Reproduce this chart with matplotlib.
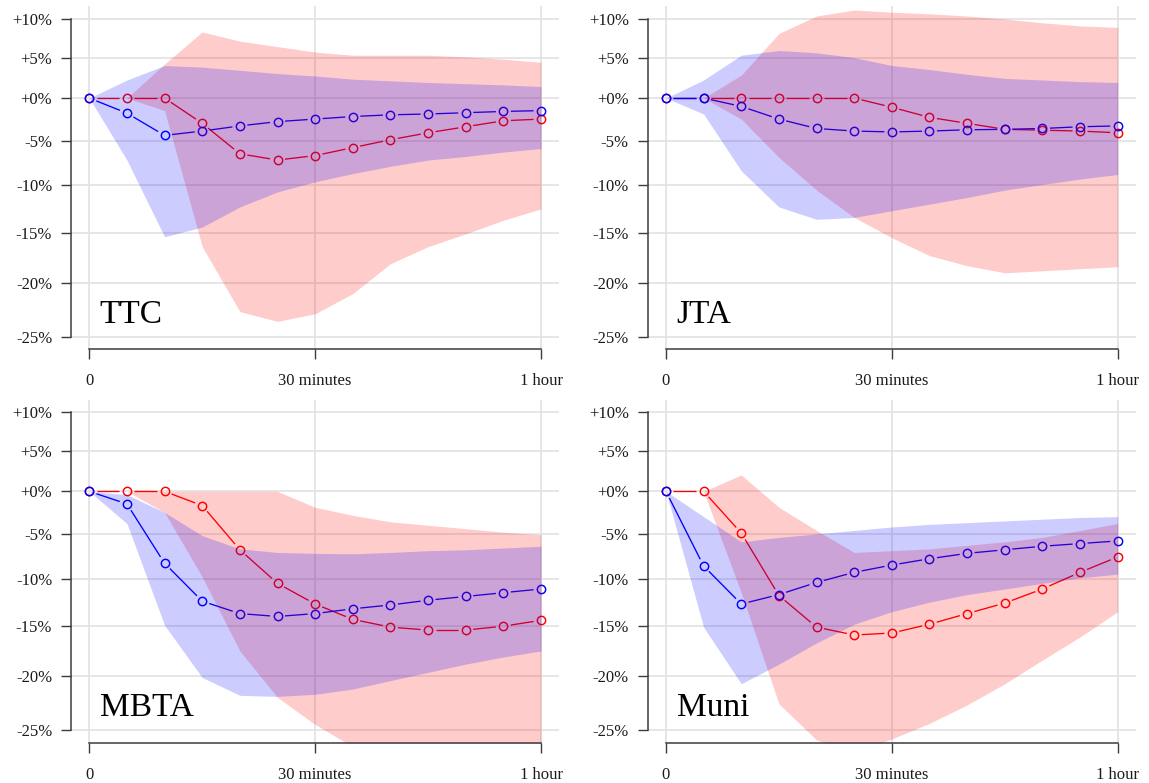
import numpy as np
import matplotlib
matplotlib.use("Agg")
import matplotlib.pyplot as plt
from matplotlib.ticker import FixedLocator, FixedFormatter, NullLocator

plt.rcParams['font.family'] = ['Liberation Serif', 'DejaVu Serif']

# ---------------- data (percent change) ----------------
minutes = [0, 5, 10, 15, 20, 25, 30, 35, 40, 45, 50, 55, 60]

ttc_blue_mean = [0, -1.8, -4.4, -3.9, -3.3, -2.8, -2.5, -2.2, -2.0, -1.9, -1.75, -1.6, -1.5]
ttc_blue_hi = [0, 2.2, 4.0, 3.8, 3.4, 3.0, 2.7, 2.3, 2.1, 1.9, 1.75, 1.6, 1.4]
ttc_blue_lo = [0, -7.2, -15.4, -14.4, -12.3, -10.7, -9.6, -8.7, -7.9, -7.2, -6.8, -6.3, -5.9]
ttc_red_mean = [0, 0, 0, -3.0, -6.5, -7.2, -6.7, -5.8, -4.9, -4.1, -3.4, -2.7, -2.5]
ttc_red_hi = [0, 0, 4.2, 8.3, 7.1, 6.4, 5.7, 5.3, 5.3, 5.3, 5.1, 4.8, 4.4]
ttc_red_lo = [0, 0, -1.5, -16.4, -22.7, -23.6, -22.9, -21.0, -18.1, -16.4, -15.1, -13.7, -12.5]

jta_blue_mean = [0, 0, -1.0, -2.5, -3.6, -3.9, -4.0, -3.9, -3.75, -3.7, -3.6, -3.4, -3.3]
jta_blue_hi = [0, 2.2, 5.3, 5.9, 5.6, 5.0, 4.0, 3.5, 2.9, 2.4, 2.2, 2.0, 1.9]
jta_blue_lo = [0, -1.9, -8.4, -12.3, -13.6, -13.4, -12.7, -12.0, -11.3, -10.5, -9.9, -9.3, -8.8]
jta_red_mean = [0, 0, 0, 0, 0, 0, -1.1, -2.3, -3.0, -3.7, -3.8, -3.9, -4.1]
jta_red_hi = [0, 0, 2.8, 8.1, 10.4, 11.2, 10.9, 10.7, 10.4, 10.0, 9.5, 9.1, 8.9]
jta_red_lo = [0, 0, -2.5, -6.9, -10.5, -13.4, -15.5, -17.3, -18.3, -19.0, -18.8, -18.6, -18.4]

mbta_blue_mean = [0, -1.5, -8.3, -12.4, -13.7, -14.0, -13.7, -13.2, -12.8, -12.3, -11.9, -11.5, -11.1]
mbta_blue_hi = [0, -0.4, -2.5, -5.2, -6.7, -7.1, -7.2, -7.25, -7.1, -6.9, -6.8, -6.6, -6.4]
mbta_blue_lo = [0, -3.8, -14.9, -20.1, -21.8, -21.9, -21.7, -21.2, -20.4, -19.6, -18.8, -18.1, -17.5]
mbta_red_mean = [0, 0, 0, -1.7, -6.8, -10.5, -12.7, -14.3, -15.1, -15.4, -15.4, -15.0, -14.4]
mbta_red_hi = [0, 0, 0, 0, 0, 0, -1.9, -2.85, -3.6, -4.0, -4.4, -4.8, -5.1]
mbta_red_lo = [0, 0, -2.5, -9.8, -17.5, -22.0, -24.5, -26.5, -28.0, -29.0, -29.5, -30.0, -30.0]

muni_blue_mean = [0, -8.6, -12.7, -11.7, -10.4, -9.3, -8.5, -7.8, -7.2, -6.8, -6.4, -6.1, -5.8]
muni_blue_hi = [0, -3.0, -5.9, -5.4, -5.0, -4.6, -4.2, -3.9, -3.7, -3.5, -3.3, -3.1, -3.0]
muni_blue_lo = [0, -15.1, -20.7, -18.8, -16.7, -14.8, -13.5, -12.5, -11.7, -11.1, -10.5, -9.9, -9.5]
muni_red_mean = [0, 0, -4.9, -11.8, -15.1, -15.9, -15.7, -14.8, -13.7, -12.6, -11.1, -9.3, -7.6]
muni_red_hi = [0, 0, 2.0, -1.9, -4.6, -7.1, -6.9, -6.7, -6.3, -5.9, -5.4, -4.6, -3.8]
muni_red_lo = [0, 0, -11.5, -22.6, -25.9, -27.0, -25.8, -24.4, -22.7, -20.7, -18.4, -16.1, -13.5]

agencies = ["TTC", "JTA", "MBTA", "Muni"]
y_ticks = [10, 5, 0, -5, -10, -15, -20, -25]
y_ticklabels = ["+10%", "+5%", "+0%", "-5%", "-10%", "-15%", "-20%", "-25%"]
x_ticks = [0, 30, 60]
x_ticklabels = ["0", "30 minutes", "1 hour"]

panels = {
    "TTC": (ttc_blue_mean, ttc_blue_hi, ttc_blue_lo, ttc_red_mean, ttc_red_hi, ttc_red_lo),
    "JTA": (jta_blue_mean, jta_blue_hi, jta_blue_lo, jta_red_mean, jta_red_hi, jta_red_lo),
    "MBTA": (mbta_blue_mean, mbta_blue_hi, mbta_blue_lo, mbta_red_mean, mbta_red_hi, mbta_red_lo),
    "Muni": (muni_blue_mean, muni_blue_hi, muni_blue_lo, muni_red_mean, muni_red_hi, muni_red_lo),
}

# ---------------- layout ----------------
W, H = 1149, 783
fig = plt.figure(figsize=(W / 100, H / 100), dpi=100)
fig.patch.set_facecolor("white")

boxes = {
    "TTC": (71.2, 6.3, 559.1, 349.4),
    "JTA": (647.9, 6.3, 1135.8, 349.4),
    "MBTA": (71.2, 399.6, 559.1, 742.7),
    "Muni": (647.9, 399.6, 1135.8, 742.7),
}


def ratio(v):
    return 1.0 + np.asarray(v, dtype=float) / 100.0


lo_t, hi_t = ratio(y_ticks[-1]), ratio(y_ticks[0])
span = np.log(hi_t) - np.log(lo_t)
ylim = (lo_t * np.exp(-0.04 * span), hi_t * np.exp(0.04 * span))
xlim = (-0.04 * 60, 60 * 1.04)

AX_COL = "#3c3c3c"
GAP = 7.5  # px gap around each point (type="b" look)


def gapped(ax, xs, ys, color):
    pts = ax.transData.transform(np.column_stack([xs, ys]))
    inv = ax.transData.inverted()
    for p, q in zip(pts[:-1], pts[1:]):
        d = q - p
        L = np.hypot(d[0], d[1])
        if L <= 2 * GAP:
            continue
        u = d / L
        a = inv.transform(p + u * GAP)
        b = inv.transform(q - u * GAP)
        ax.plot([a[0], b[0]], [a[1], b[1]], color=color, lw=0.95,
                solid_capstyle="butt", zorder=1)
    ax.plot(xs, ys, ls="none", marker="o", mfc="none", mec=color,
            ms=6.0, mew=1.05, zorder=1.1)


for name in agencies:
    x0, y0, x1, y1 = boxes[name]
    ax = fig.add_axes([x0 / W, 1 - y1 / H, (x1 - x0) / W, (y1 - y0) / H])
    ax.set_yscale("log")
    ax.set_xlim(*xlim)
    ax.set_ylim(*ylim)
    ax.set_facecolor("white")

    ax.yaxis.set_major_locator(FixedLocator(ratio(y_ticks)))
    ax.yaxis.set_major_formatter(FixedFormatter(y_ticklabels))
    ax.yaxis.set_minor_locator(NullLocator())
    ax.set_xticks(x_ticks)
    ax.set_xticklabels(x_ticklabels)

    ax.grid(True, which="major", color="#e2e2e2", lw=1.2, zorder=0)
    ax.set_axisbelow(True)

    bm, bh, bl, rm, rh, rl = panels[name]
    xs = np.asarray(minutes, dtype=float)

    gapped(ax, xs, ratio(rm), "#ff0000")
    gapped(ax, xs, ratio(bm), "#0000ff")

    ax.fill_between(xs, ratio(rl), ratio(rh), color="#ff0000", alpha=0.2,
                    lw=0, zorder=2)
    ax.fill_between(xs, ratio(bl), ratio(bh), color="#0000ff", alpha=0.2,
                    lw=0, zorder=3)

    for s in ("top", "right"):
        ax.spines[s].set_visible(False)
    ax.spines["left"].set_bounds(ratio(y_ticks[-1]), ratio(y_ticks[0]))
    ax.spines["bottom"].set_bounds(x_ticks[0], x_ticks[-1])
    for s in ("left", "bottom"):
        ax.spines[s].set_color(AX_COL)
        ax.spines[s].set_linewidth(1.1)
        ax.spines[s].set_zorder(5)

    ax.tick_params(axis="both", which="major", direction="out", length=7.2,
                   width=1.0, color=AX_COL, labelsize=12, labelcolor="#1a1a1a")
    ax.tick_params(axis="y", pad=6.5)
    ax.tick_params(axis="x", pad=10)

    ax.text(1.4, 0.7623, name, fontsize=24, ha="left", va="baseline",
            color="black", zorder=6)

fig.savefig("out.png", dpi=100, facecolor="white")
